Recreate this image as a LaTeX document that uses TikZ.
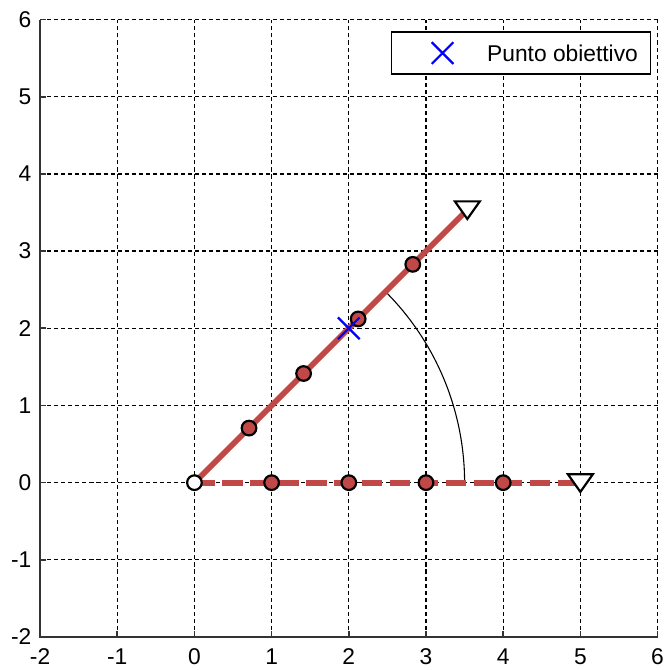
\documentclass[tikz,border=0pt]{standalone}
\usepackage{fontspec}
\setmainfont{Liberation Sans}
\definecolor{rosso}{RGB}{192,72,70}
\tikzset{
  griglia/.style={black, line width=0.45pt, dash pattern=on 1.5pt off 1.1pt},
  asse/.style={black!80, line width=0.6pt},
  braccio/.style={rosso, line width=2.1pt},
  pallino/.style={fill=rosso, draw=black, line width=0.8pt},
  punta/.style={fill=white, draw=black, line width=0.8pt},
  croce/.style={blue, line width=0.8pt},
  etichetta/.style={font=\fontsize{8.4}{10}\selectfont, inner sep=1pt}
}
\begin{document}
\begin{tikzpicture}
\useasboundingbox (-2.519,-2.427) rectangle (6.132,6.253);
% griglia
\foreach \k in {-1,...,6} {
  \draw[griglia] (\k,-2) -- (\k,6);
  \draw[griglia] (-2,\k) -- (6,\k);
}
% assi e tacche
\foreach \k in {-2,...,6} {
  \draw[asse] (\k,-2) -- ++(0,0.08);
  \draw[asse] (-2,\k) -- ++(0.08,0);
  \node[etichetta, anchor=north] (xl\k) at (\k,-2.11) {\k};
  \node[etichetta, anchor=east] (yl\k) at (-2.07,\k) {\k};
}
\draw[asse] (-2,6) -- (-2,-2) -- (6,-2);
% punti
\coordinate (O) at (0,0);
\coordinate (A) at (45:5);
\coordinate (B) at (5,0);
\coordinate (T) at (2,2);
% angolo
\draw[line width=0.4pt] (3.5,0) arc[start angle=0, end angle=45, radius=3.5];
% braccio
\draw[braccio] (O) -- (A);
\draw[braccio, dash pattern=on 7.5pt off 2.8pt] (O) -- (B);
\foreach \r in {1,...,4} {
  \filldraw[pallino] (45:\r) circle (2.7pt);
  \filldraw[pallino] (\r,0) circle (2.7pt);
}
\filldraw[punta] (O) circle (2.7pt);
\filldraw[punta, shift={(A)}] (-4.6pt,3.1pt) -- (4.6pt,3.1pt) -- (0,-3.4pt) -- cycle;
\filldraw[punta, shift={(B)}] (-4.6pt,3.1pt) -- (4.6pt,3.1pt) -- (0,-3.4pt) -- cycle;
% obiettivo
\draw[croce] (T) +(-4pt,-4pt) -- +(4pt,4pt) (T) +(-4pt,4pt) -- +(4pt,-4pt);
% legenda
\node[
    draw = black,
    fill = white,
    line width = 0.45pt,
    minimum width = 3.359cm,
    minimum height = 0.544cm
] (legenda) at (4.2325,5.566) {};
\coordinate (L) at (3.214,5.566);
\draw[croce] (L) +(-4pt,-4pt) -- +(4pt,4pt) (L) +(-4pt,4pt) -- +(4pt,-4pt);
\node[etichetta, anchor=west] (voce) at (3.75,5.566) {Punto obiettivo};
\end{tikzpicture}
\end{document}
